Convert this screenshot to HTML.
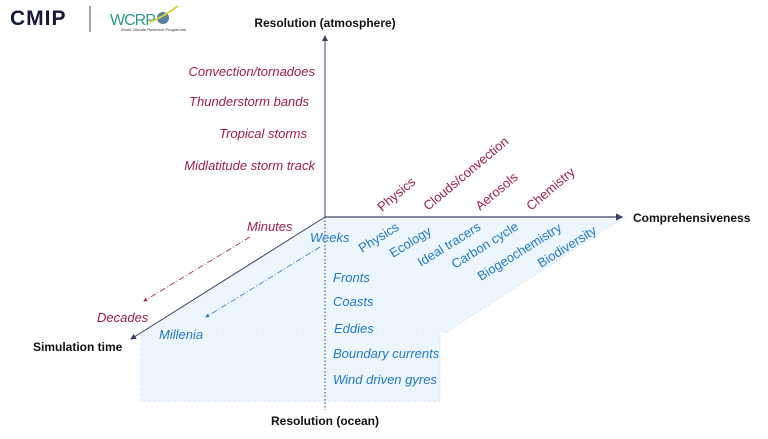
<!DOCTYPE html>
<html><head><meta charset="utf-8"><style>
html,body{margin:0;padding:0;background:#fff;}
svg{display:block;font-family:"Liberation Sans",sans-serif;}
.r{fill:#9e1c4c;font-style:italic;font-size:13px;}
.b{fill:#1f78c8;font-style:italic;font-size:13px;}
.rr{fill:#9e1c4c;font-size:13px;}
.bb{fill:#1f78c8;font-size:13px;}
.ax{fill:#111;font-weight:bold;font-size:12px;}
</style></head><body>
<svg width="768" height="439" viewBox="0 0 768 439" xmlns="http://www.w3.org/2000/svg">
<defs>
<marker id="a" markerWidth="6" markerHeight="6" refX="5" refY="3" orient="auto"><path d="M0,0 L6,3 L0,6z" fill="#3a3f6b"/></marker>
<marker id="ar" markerWidth="5" markerHeight="5" refX="4" refY="2.5" orient="auto"><path d="M0,0 L5,2.5 L0,5z" fill="#9e1c4c"/></marker>
<marker id="ab" markerWidth="5" markerHeight="5" refX="4" refY="2.5" orient="auto"><path d="M0,0 L5,2.5 L0,5z" fill="#1f78c8"/></marker>
</defs>
<text x="10" y="25" font-size="21" font-weight="bold" fill="#141a3c" letter-spacing="1">CMIP</text>
<line x1="90" y1="6" x2="90" y2="32" stroke="#444" stroke-width="1"/>
<text x="110" y="25" font-size="16" fill="#2a9a8a" letter-spacing="-1">WCRP</text>
<circle cx="163" cy="18" r="6" fill="#5a7fa0"/>
<path d="M150,22 Q165,16 178,6" stroke="#d8d040" stroke-width="2" fill="none"/>
<text x="121" y="31" font-size="4" fill="#333">World Climate Research Programme</text>
<polygon points="325,217 625,217 445,333 140,333" fill="#eef6fd"/>
<rect x="141" y="334" width="299" height="67" fill="#eef6fd" stroke="#cfe3f5" stroke-dasharray="3,2" stroke-width="0.8"/>
<line x1="625" y1="217" x2="445" y2="333" stroke="#cfe3f5" stroke-dasharray="3,2" stroke-width="0.8"/>
<line x1="325" y1="217" x2="325" y2="36" stroke="#3a3f6b" stroke-width="1" marker-end="url(#a)"/>
<line x1="325" y1="217" x2="622" y2="217" stroke="#3a3f6b" stroke-width="1.2" marker-end="url(#a)"/>
<line x1="325" y1="217" x2="131" y2="339" stroke="#3a3f6b" stroke-width="1" marker-end="url(#a)"/>
<line x1="325" y1="217" x2="325" y2="410" stroke="#3a3f6b" stroke-width="1" stroke-dasharray="1.5,2"/>
<line x1="250" y1="237" x2="144" y2="301" stroke="#9e1c4c" stroke-width="0.8" stroke-dasharray="6,2,1,2" marker-end="url(#ar)"/>
<line x1="320" y1="247" x2="206" y2="317" stroke="#1f78c8" stroke-width="0.8" stroke-dasharray="6,2,1,2" marker-end="url(#ab)"/>
<text class="ax" x="325" y="27" text-anchor="middle">Resolution (atmosphere)</text>
<text class="ax" x="633" y="222">Comprehensiveness</text>
<text class="ax" x="33" y="351">Simulation time</text>
<text class="ax" x="325" y="425" text-anchor="middle">Resolution (ocean)</text>
<text class="r" x="315" y="76" text-anchor="end">Convection/tornadoes</text>
<text class="r" x="309" y="106" text-anchor="end">Thunderstorm bands</text>
<text class="r" x="307" y="138" text-anchor="end">Tropical storms</text>
<text class="r" x="315" y="170" text-anchor="end">Midlatitude storm track</text>
<text class="r" x="247" y="231">Minutes</text>
<text class="r" x="97" y="322">Decades</text>
<text class="b" x="310" y="242">Weeks</text>
<text class="b" x="159" y="339">Millenia</text>
<text class="b" x="333" y="282">Fronts</text>
<text class="b" x="333" y="306">Coasts</text>
<text class="b" x="334" y="333">Eddies</text>
<text class="b" x="333" y="358">Boundary currents</text>
<text class="b" x="333" y="384">Wind driven gyres</text>
<text class="rr" transform="translate(382,212) rotate(-40)">Physics</text>
<text class="rr" transform="translate(428,211) rotate(-40)">Clouds/convection</text>
<text class="rr" transform="translate(480,211) rotate(-40)">Aerosols</text>
<text class="rr" transform="translate(531,211) rotate(-40)">Chemistry</text>
<text class="bb" transform="translate(362,253) rotate(-32)">Physics</text>
<text class="bb" transform="translate(393,258) rotate(-32)">Ecology</text>
<text class="bb" transform="translate(421,267) rotate(-32)">Ideal tracers</text>
<text class="bb" transform="translate(455,269) rotate(-32)">Carbon cycle</text>
<text class="bb" transform="translate(481,281) rotate(-32)">Biogeochemistry</text>
<text class="bb" transform="translate(541,268) rotate(-32)">Biodiversity</text>
</svg>
</body></html>
